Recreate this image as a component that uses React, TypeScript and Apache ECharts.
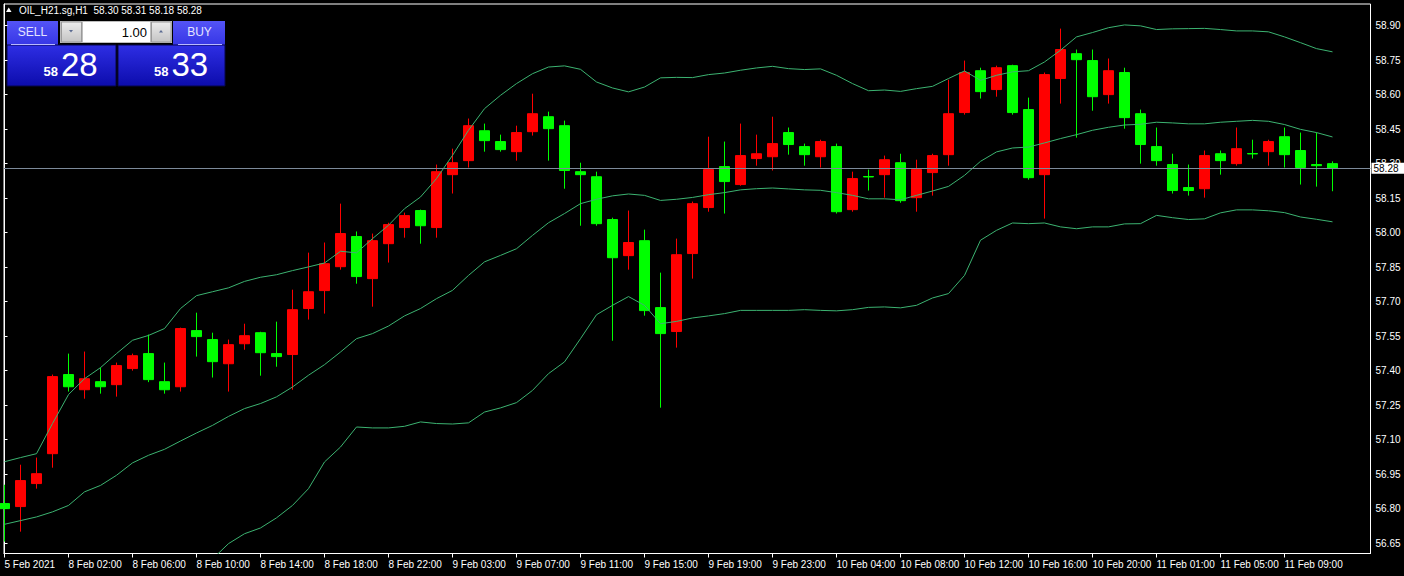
import React, { useEffect, useRef } from 'react';
import * as echarts from 'echarts';

// ---------- data ----------
const symbolName = 'OIL_H21.sg,H1';

// time-axis tick labels (one every 4 hourly bars, starting at bar 0)
const tickLabels = [
  '5 Feb 2021', '8 Feb 02:00', '8 Feb 06:00', '8 Feb 10:00', '8 Feb 14:00', '8 Feb 18:00',
  '8 Feb 22:00', '9 Feb 03:00', '9 Feb 07:00', '9 Feb 11:00', '9 Feb 15:00', '9 Feb 19:00',
  '9 Feb 23:00', '10 Feb 04:00', '10 Feb 08:00', '10 Feb 12:00', '10 Feb 16:00', '10 Feb 20:00',
  '11 Feb 01:00', '11 Feb 05:00', '11 Feb 09:00',
];
const tickBars = [0, 4, 8, 12, 16, 20, 24, 28, 32, 36, 40, 44, 48, 52, 56, 60, 64, 68, 72, 76, 80];

const priceTicks = [56.65, 56.8, 56.95, 57.1, 57.25, 57.4, 57.55, 57.7, 57.85, 58.0, 58.15, 58.3, 58.45, 58.6, 58.75, 58.9];

const opens = [
  56.822, 56.809, 56.909, 57.039, 57.383, 57.317, 57.352, 57.339, 57.409, 57.474,
  57.352, 57.330, 57.574, 57.535, 57.430, 57.517, 57.565, 57.474, 57.470, 57.670,
  57.748, 57.852, 57.983, 57.800, 57.952, 58.022, 58.096, 58.022, 58.252, 58.313,
  58.443, 58.396, 58.352, 58.439, 58.504, 58.465, 58.265, 58.243, 58.057, 57.900,
  57.965, 57.674, 57.570, 57.909, 58.109, 58.287, 58.209, 58.322, 58.330, 58.435,
  58.374, 58.330, 58.374, 58.100, 58.244, 58.252, 58.304, 58.152, 58.261, 58.339,
  58.522, 58.704, 58.622, 58.726, 58.535, 58.252, 58.670, 58.778, 58.748, 58.600,
  58.696, 58.517, 58.374, 58.296, 58.196, 58.191, 58.343, 58.300, 58.344, 58.352,
  58.417, 58.357, 58.296, 58.30,
];
const closes = [
  56.800, 56.922, 56.952, 57.374, 57.330, 57.365, 57.330, 57.422, 57.465, 57.361,
  57.317, 57.583, 57.548, 57.439, 57.513, 57.552, 57.478, 57.461, 57.665, 57.743,
  57.865, 57.996, 57.809, 57.965, 58.035, 58.074, 58.030, 58.265, 58.304, 58.465,
  58.400, 58.361, 58.435, 58.517, 58.452, 58.270, 58.252, 58.039, 57.891, 57.957,
  57.661, 57.561, 57.904, 58.126, 58.274, 58.222, 58.335, 58.343, 58.387, 58.383,
  58.339, 58.396, 58.091, 58.235, 58.242, 58.317, 58.139, 58.274, 58.335, 58.517,
  58.696, 58.613, 58.717, 58.522, 58.239, 58.687, 58.796, 58.752, 58.591, 58.704,
  58.500, 58.383, 58.313, 58.183, 58.183, 58.335, 58.313, 58.365, 58.342, 58.396,
  58.339, 58.283, 58.291, 58.28,
];
const lows = [
  56.657, 56.700, 56.887, 56.978, 57.309, 57.278, 57.300, 57.287, 57.400, 57.350,
  57.300, 57.309, 57.461, 57.370, 57.309, 57.491, 57.378, 57.417, 57.317, 57.622,
  57.648, 57.839, 57.778, 57.678, 57.870, 57.978, 57.952, 57.978, 58.170, 58.283,
  58.352, 58.352, 58.313, 58.422, 58.313, 58.191, 58.030, 58.030, 57.530, 57.839,
  57.639, 57.239, 57.500, 57.800, 58.091, 58.083, 58.204, 58.291, 58.270, 58.339,
  58.291, 58.283, 58.083, 58.091, 58.183, 58.152, 58.130, 58.091, 58.161, 58.291,
  58.513, 58.583, 58.591, 58.513, 58.230, 58.061, 58.561, 58.413, 58.530, 58.561,
  58.452, 58.300, 58.291, 58.170, 58.161, 58.152, 58.252, 58.291, 58.322, 58.291,
  58.283, 58.209, 58.200, 58.18,
];
const highs = [
  56.904, 56.991, 57.022, 57.383, 57.474, 57.483, 57.413, 57.435, 57.474, 57.557,
  57.435, 57.587, 57.652, 57.565, 57.535, 57.604, 57.569, 57.613, 57.752, 57.913,
  57.957, 58.126, 58.005, 57.996, 58.043, 58.087, 58.100, 58.296, 58.365, 58.496,
  58.474, 58.426, 58.465, 58.604, 58.526, 58.487, 58.304, 58.265, 58.065, 58.096,
  58.013, 57.826, 57.974, 58.135, 58.417, 58.396, 58.474, 58.426, 58.504, 58.457,
  58.387, 58.404, 58.387, 58.265, 58.274, 58.335, 58.343, 58.317, 58.343, 58.665,
  58.748, 58.717, 58.726, 58.730, 58.587, 58.696, 58.887, 58.796, 58.796, 58.757,
  58.717, 58.535, 58.457, 58.343, 58.296, 58.357, 58.357, 58.457, 58.404, 58.404,
  58.457, 58.435, 58.435, 58.31,
];

// Bollinger bands (20, 2) as drawn
const upperBand = [
  57.004, 57.022, 57.039, 57.170, 57.296, 57.365, 57.413, 57.474, 57.532, 57.553,
  57.583, 57.670, 57.726, 57.743, 57.760, 57.788, 57.806, 57.817, 57.835, 57.851,
  57.868, 57.919, 57.912, 57.974, 58.032, 58.104, 58.155, 58.235, 58.336, 58.445,
  58.539, 58.597, 58.648, 58.691, 58.720, 58.725, 58.710, 58.655, 58.629, 58.612,
  58.633, 58.673, 58.675, 58.674, 58.687, 58.694, 58.706, 58.716, 58.723, 58.713,
  58.709, 58.712, 58.684, 58.648, 58.617, 58.620, 58.614, 58.626, 58.636, 58.670,
  58.703, 58.662, 58.684, 58.699, 58.704, 58.742, 58.793, 58.851, 58.870, 58.891,
  58.903, 58.899, 58.883, 58.886, 58.887, 58.888, 58.883, 58.877, 58.877, 58.873,
  58.851, 58.826, 58.800, 58.786,
];
const middleBand = [
  56.732, 56.748, 56.764, 56.786, 56.814, 56.873, 56.901, 56.945, 56.999, 57.032,
  57.058, 57.094, 57.129, 57.162, 57.201, 57.235, 57.257, 57.286, 57.329, 57.380,
  57.426, 57.481, 57.539, 57.561, 57.594, 57.638, 57.670, 57.713, 57.749, 57.814,
  57.873, 57.901, 57.930, 57.988, 58.043, 58.083, 58.126, 58.145, 58.160, 58.168,
  58.162, 58.140, 58.145, 58.153, 58.165, 58.174, 58.186, 58.191, 58.194, 58.190,
  58.186, 58.184, 58.174, 58.162, 58.147, 58.147, 58.143, 58.162, 58.181, 58.201,
  58.249, 58.310, 58.351, 58.368, 58.372, 58.390, 58.409, 58.426, 58.445, 58.458,
  58.468, 58.471, 58.480, 58.477, 58.473, 58.473, 58.480, 58.484, 58.488, 58.484,
  58.470, 58.449, 58.435, 58.416,
];
const lowerBand = [
  56.459, 56.474, 56.489, 56.402, 56.333, 56.380, 56.390, 56.416, 56.466, 56.510,
  56.533, 56.519, 56.532, 56.581, 56.648, 56.691, 56.716, 56.760, 56.814, 56.887,
  57.003, 57.068, 57.155, 57.151, 57.151, 57.158, 57.177, 57.170, 57.168, 57.173,
  57.220, 57.238, 57.261, 57.314, 57.387, 57.438, 57.539, 57.643, 57.684, 57.722,
  57.684, 57.604, 57.614, 57.629, 57.638, 57.648, 57.662, 57.662, 57.662, 57.662,
  57.665, 57.662, 57.660, 57.665, 57.675, 57.677, 57.673, 57.684, 57.716, 57.735,
  57.814, 57.967, 58.010, 58.042, 58.039, 58.042, 58.025, 58.017, 58.025, 58.025,
  58.038, 58.039, 58.075, 58.065, 58.057, 58.060, 58.086, 58.099, 58.099, 58.095,
  58.087, 58.068, 58.058, 58.047,
];

const currentPrice = 58.28;
const sellQuote = { big: '58', small: '28' };
const buyQuote = { big: '58', small: '33' };
const lotSize = '1.00';

// ---------- component ----------
const FONT = "'Liberation Sans', Arial, sans-serif";

export default function App() {
  const ref = useRef<HTMLDivElement>(null);

  useEffect(() => {
    document.body.style.margin = '0';
    document.body.style.background = '#000';
    if (!ref.current) return;
    const chart = echarts.init(ref.current, undefined, { renderer: 'svg' });

    const last = opens.length - 1;
    const fmt = (v: number) => v.toFixed(2);
    const header = `${symbolName}  ${fmt(opens[last])} ${fmt(highs[last])} ${fmt(lows[last])} ${fmt(closes[last])}`;

    const candleData = opens.map((o, i) => [i, o, closes[i], lows[i], highs[i]]);
    const band = (arr: number[]) => arr.map((v, i) => [i, v]);

    const tabGrad = () =>
      new echarts.graphic.LinearGradient(0, 0, 0, 1, [
        { offset: 0, color: '#5454f6' },
        { offset: 1, color: '#3636e6' },
      ]);
    const boxGrad = () =>
      new echarts.graphic.LinearGradient(0, 0, 0, 1, [
        { offset: 0, color: '#2e2ee4' },
        { offset: 1, color: '#0c0cac' },
      ]);
    const btnGrad = () =>
      new echarts.graphic.LinearGradient(0, 0, 0, 1, [
        { offset: 0, color: '#ececec' },
        { offset: 1, color: '#c4c4c4' },
      ]);

    const txt = (text: string, x: number, y: number, size: number, opts: any = {}) => ({
      type: 'text',
      x,
      y,
      silent: true,
      style: {
        text,
        fill: opts.fill || '#ffffff',
        fontSize: size,
        fontFamily: FONT,
        fontWeight: opts.bold ? 'bold' : 'normal',
        align: opts.align || 'left',
        verticalAlign: 'middle',
      },
    });

    const graphic: any[] = [
      // header
      { type: 'polygon', silent: true, shape: { points: [[6, 12], [11.5, 12], [8.75, 7.5]] }, style: { fill: '#ffffff' } },
      txt(header, 19, 10, 10),
      // SELL side
      { type: 'rect', silent: true, shape: { x: 7, y: 21, width: 51, height: 24 }, style: { fill: tabGrad() } },
      { type: 'rect', silent: true, shape: { x: 7, y: 45, width: 109, height: 41 }, style: { fill: boxGrad(), stroke: '#06064a', lineWidth: 1 } },
      { type: 'line', silent: true, shape: { x1: 11, y1: 44.5, x2: 55, y2: 44.5 }, style: { stroke: '#b8b8ff', lineWidth: 1 } },
      txt('SELL', 32.5, 32, 12, { align: 'center', fill: '#e4e4ff' }),
      txt(sellQuote.big, 58, 71, 13, { bold: true, align: 'right' }),
      txt(sellQuote.small, 61, 64.5, 33),
      // BUY side
      { type: 'rect', silent: true, shape: { x: 173, y: 21, width: 52, height: 24 }, style: { fill: tabGrad() } },
      { type: 'rect', silent: true, shape: { x: 118, y: 45, width: 107, height: 41 }, style: { fill: boxGrad(), stroke: '#06064a', lineWidth: 1 } },
      { type: 'line', silent: true, shape: { x1: 178, y1: 44.5, x2: 222, y2: 44.5 }, style: { stroke: '#b8b8ff', lineWidth: 1 } },
      txt('BUY', 199.5, 32, 12, { align: 'center', fill: '#e4e4ff' }),
      txt(buyQuote.big, 168.5, 71, 13, { bold: true, align: 'right' }),
      txt(buyQuote.small, 171.5, 64.5, 33),
      // lot control
      { type: 'rect', silent: true, shape: { x: 59.5, y: 20.5, width: 113, height: 23 }, style: { fill: '#bdbdbd', stroke: '#000000', lineWidth: 1 } },
      { type: 'rect', silent: true, shape: { x: 61.5, y: 22, width: 20, height: 20 }, style: { fill: btnGrad(), stroke: '#9a9a9a', lineWidth: 1 } },
      { type: 'rect', silent: true, shape: { x: 83, y: 22, width: 67, height: 20 }, style: { fill: '#ffffff' } },
      { type: 'rect', silent: true, shape: { x: 151.5, y: 22, width: 19.5, height: 20 }, style: { fill: btnGrad(), stroke: '#9a9a9a', lineWidth: 1 } },
      { type: 'polygon', silent: true, shape: { points: [[69, 30], [73, 30], [71, 32.5]] }, style: { fill: '#5a6a90' } },
      { type: 'polygon', silent: true, shape: { points: [[159, 32.5], [163, 32.5], [161, 30]] }, style: { fill: '#5a6a90' } },
      txt(lotSize, 147, 32, 13, { align: 'right', fill: '#000000' }),
    ];

    const option: any = {
      animation: false,
      backgroundColor: '#000000',
      grid: {
        left: 4,
        top: 4,
        right: 33.5,
        bottom: 22.5,
        show: true,
        borderColor: '#ffffff',
        borderWidth: 1,
        backgroundColor: 'transparent',
      },
      xAxis: {
        type: 'value',
        min: -0.03125,
        max: 85.375,
        axisLine: { show: true, lineStyle: { color: '#ffffff', width: 1 } },
        axisTick: { show: true, customValues: tickBars, length: 4, inside: false, lineStyle: { color: '#ffffff' } },
        axisLabel: {
          show: true,
          customValues: tickBars,
          formatter: (v: number) => tickLabels[tickBars.indexOf(Math.round(v))] ?? '',
          color: '#ffffff',
          fontSize: 10,
          fontFamily: FONT,
          align: 'left',
          margin: 6,
        },
        splitLine: { show: false },
      },
      yAxis: {
        type: 'value',
        position: 'right',
        min: 56.605,
        max: 58.994,
        scale: true,
        axisLine: { show: true, lineStyle: { color: '#ffffff', width: 1 } },
        axisTick: { show: true, customValues: priceTicks, length: 3, inside: false, lineStyle: { color: '#ffffff' } },
        axisLabel: {
          show: true,
          customValues: priceTicks,
          formatter: (v: number) => v.toFixed(2),
          color: '#ffffff',
          fontSize: 10,
          fontFamily: FONT,
          margin: 5,
        },
        splitLine: { show: false },
      },
      graphic,
      series: [
        {
          type: 'candlestick',
          data: candleData,
          barWidth: 10,
          clip: true,
          itemStyle: {
            color: '#ff0000',
            color0: '#00ff00',
            borderColor: '#ff0000',
            borderColor0: '#00ff00',
            borderWidth: 1,
          },
          markLine: {
            silent: true,
            symbol: ['none', 'none'],
            precision: 2,
            lineStyle: { color: '#7c8a9a', width: 1, type: 'solid' },
            label: {
              show: true,
              position: 'end',
              distance: 1,
              formatter: () => currentPrice.toFixed(2),
              color: '#000000',
              backgroundColor: '#ffffff',
              fontSize: 10,
              fontFamily: FONT,
              lineHeight: 11,
              padding: [0, 6, 0, 2],
            },
            data: [{ yAxis: currentPrice }],
          },
        },
        ...[upperBand, middleBand, lowerBand].map((arr) => ({
          type: 'line',
          data: band(arr),
          showSymbol: false,
          symbol: 'none',
          silent: true,
          clip: true,
          lineStyle: { color: '#3cb371', width: 1 },
          z: 3,
        })),
      ],
    };

    chart.setOption(option);
    return () => chart.dispose();
  }, []);

  return (
    <div
      ref={ref}
      style={{ position: 'fixed', left: 0, top: 0, width: 1404, height: 576, background: '#000' }}
    />
  );
}
